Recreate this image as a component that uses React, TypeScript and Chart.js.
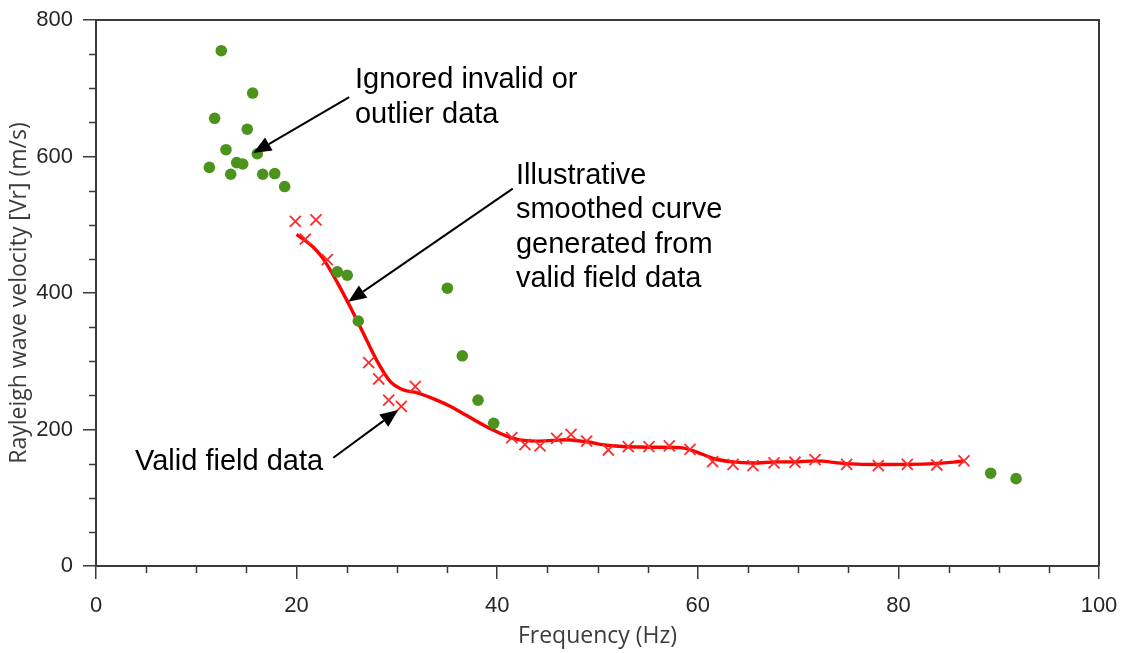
import React, { useEffect, useRef } from "react";
import { Chart, registerables } from "chart.js";

Chart.register(...registerables);

// Ignored invalid / outlier data (green dots)
const outlierFreq = [11.3, 11.83, 12.49, 12.96, 13.43, 14.03, 14.63, 15.08, 15.62, 16.08, 16.62, 17.82, 18.81, 24.06, 25.05, 26.15, 35.03, 36.52, 38.09, 39.65, 89.2, 91.73];
const outlierVel = [584, 656, 755, 610, 574, 591, 589, 640, 693, 604, 574, 575, 556, 431, 426, 359, 407, 308, 243, 209, 136, 128];

// Valid field data (red crosses)
const validFreq = [19.87, 20.87, 21.93, 23.06, 27.19, 28.19, 29.18, 30.44, 31.83, 41.45, 42.77, 44.27, 45.93, 47.36, 48.92, 51.08, 53.07, 55.13, 57.16, 59.22, 61.48, 63.51, 65.5, 67.6, 69.69, 71.69, 74.84, 78.0, 80.89, 83.82, 86.54];
const validVel = [505, 479, 507, 449, 298, 274, 243, 234, 263, 188, 178, 176, 187, 193, 183, 170, 175, 175, 176, 171, 153, 149, 147, 151, 152, 156, 149, 147, 149, 148, 154];

// Illustrative smoothed curve
const curveFreq = [20.0, 21.67, 22.66, 24.0, 25.3, 26.65, 28.0, 29.3, 30.64, 31.97, 33.97, 35.3, 37.0, 38.95, 41.6, 43.9, 45.6, 46.9, 48.9, 50.9, 55.2, 58.2, 59.9, 61.55, 63.5, 65.5, 67.9, 69.5, 71.7, 74.8, 78.0, 83.5, 86.5];
const curveVel = [486, 467, 450, 417, 381, 341, 301, 271, 258, 254, 243, 234, 220, 204, 187, 183, 184, 185, 182, 177, 174, 173.5, 167, 157.5, 152.5, 151, 152.5, 152.5, 154, 150, 148.7, 150, 153.5];

const xTickValues = [0, 20, 40, 60, 80, 100];
const yTickValues = [0, 200, 400, 600, 800];
const xMinorStep = 5;
const yMinorStep = 50;

const xTitle = "Frequency (Hz)";
const yTitle = "Rayleigh wave velocity [Vr] (m/s)";

const noteTexts = [
  { lines: ["Ignored invalid or", "outlier data"], x: 25.82, y: 700 },
  { lines: ["Illustrative", "smoothed curve", "generated from", "valid field data"], x: 41.87, y: 559.7 },
  { lines: ["Valid field data"], x: 3.89, y: 140.7 },
];
const noteArrows = [
  { fromX: 25.25, fromY: 687, toX: 15.68, toY: 605 },
  { fromX: 41.55, fromY: 553, toX: 25.15, toY: 387 },
  { fromX: 23.66, fromY: 158.7, toX: 30.14, toY: 228.6 },
];

const AXIS_COLOR = "#3a3a3a";

const decorPlugin = {
  id: "decor",
  afterDraw(chart: any) {
    const { ctx, chartArea, scales } = chart;
    const xs = scales.x;
    const ys = scales.y;
    ctx.save();
    // frame top and right
    ctx.strokeStyle = AXIS_COLOR;
    ctx.lineWidth = 2;
    ctx.beginPath();
    ctx.moveTo(chartArea.left, chartArea.top);
    ctx.lineTo(chartArea.right, chartArea.top);
    ctx.lineTo(chartArea.right, chartArea.bottom);
    ctx.stroke();
    // minor ticks
    ctx.lineWidth = 1.5;
    ctx.beginPath();
    for (let v = 0; v <= 100; v += xMinorStep) {
      if (xTickValues.includes(v)) continue;
      const px = Math.round(xs.getPixelForValue(v)) + 0.5;
      ctx.moveTo(px, chartArea.bottom);
      ctx.lineTo(px, chartArea.bottom + 7);
    }
    for (let v = 0; v <= 800; v += yMinorStep) {
      if (yTickValues.includes(v)) continue;
      const py = Math.round(ys.getPixelForValue(v)) + 0.5;
      ctx.moveTo(chartArea.left - 7, py);
      ctx.lineTo(chartArea.left, py);
    }
    ctx.stroke();

    // annotation texts
    ctx.fillStyle = "#000";
    ctx.font = '29px "Liberation Sans", Arial, sans-serif';
    ctx.textAlign = "left";
    ctx.textBaseline = "alphabetic";
    for (const n of noteTexts) {
      const x0 = xs.getPixelForValue(n.x);
      const y0 = ys.getPixelForValue(n.y);
      n.lines.forEach((line, i) => ctx.fillText(line, x0, y0 + i * 34.3));
    }
    // arrows
    ctx.strokeStyle = "#000";
    ctx.lineWidth = 2;
    for (const a of noteArrows) {
      const x1 = xs.getPixelForValue(a.fromX);
      const y1 = ys.getPixelForValue(a.fromY);
      const x2 = xs.getPixelForValue(a.toX);
      const y2 = ys.getPixelForValue(a.toY);
      const ang = Math.atan2(y2 - y1, x2 - x1);
      const headLen = 18;
      const headHalf = 7.5;
      const bx = x2 - headLen * Math.cos(ang);
      const by = y2 - headLen * Math.sin(ang);
      ctx.beginPath();
      ctx.moveTo(x1, y1);
      ctx.lineTo(bx, by);
      ctx.stroke();
      ctx.beginPath();
      ctx.moveTo(x2, y2);
      ctx.lineTo(bx + headHalf * Math.sin(ang), by - headHalf * Math.cos(ang));
      ctx.lineTo(bx - headHalf * Math.sin(ang), by + headHalf * Math.cos(ang));
      ctx.closePath();
      ctx.fill();
    }
    ctx.restore();
  },
};

export default function App() {
  const canvasRef = useRef<HTMLCanvasElement | null>(null);

  useEffect(() => {
    const canvas = canvasRef.current;
    if (!canvas) return;
    const tickFont = { family: '"Liberation Sans", Arial, sans-serif', size: 22 };
    const titleFont = { family: '"Open Sans", "Noto Sans", sans-serif', size: 23 };
    const chart = new Chart(canvas, {
      type: "scatter",
      data: {
        datasets: [
          {
            label: "Ignored invalid or outlier data",
            data: outlierFreq.map((f, i) => ({ x: f, y: outlierVel[i] })),
            backgroundColor: "#4b931d",
            borderColor: "#4b931d",
            pointRadius: 5.8,
            pointBorderWidth: 0,
            showLine: false,
          },
          {
            label: "Valid field data",
            data: validFreq.map((f, i) => ({ x: f, y: validVel[i] })),
            pointStyle: "cross",
            rotation: 45,
            borderColor: "#ff2a2a",
            backgroundColor: "#ff2a2a",
            pointRadius: 7.8,
            pointBorderWidth: 1.8,
            showLine: false,
          },
          {
            label: "Illustrative smoothed curve",
            data: curveFreq.map((f, i) => ({ x: f, y: curveVel[i] })),
            showLine: true,
            borderColor: "#ff0000",
            borderWidth: 3.4,
            pointRadius: 0,
            cubicInterpolationMode: "monotone",
          } as any,
        ],
      },
      options: {
        animation: false,
        responsive: false,
        layout: { padding: { top: 20, right: 28, left: 0, bottom: 0 } },
        plugins: { legend: { display: false }, tooltip: { enabled: false } },
        scales: {
          x: {
            type: "linear",
            min: 0,
            max: 100,
            afterBuildTicks: (s: any) => {
              s.ticks = xTickValues.map((v) => ({ value: v }));
            },
            afterFit: (s: any) => {
              s.height = 87;
              s.paddingLeft = 0;
              s.paddingRight = 0;
            },
            ticks: { color: "#262626", font: tickFont, padding: 14, maxRotation: 0 },
            grid: {
              display: true,
              drawOnChartArea: false,
              drawTicks: true,
              tickLength: 13,
              color: AXIS_COLOR,
              lineWidth: 1.5,
            },
            border: { display: true, color: AXIS_COLOR, width: 2 },
            title: {
              display: true,
              text: xTitle,
              color: "#3c3c3c",
              font: titleFont,
              padding: { top: 0, bottom: 3 },
            },
          },
          y: {
            type: "linear",
            min: 0,
            max: 800,
            afterBuildTicks: (s: any) => {
              s.ticks = yTickValues.map((v) => ({ value: v }));
            },
            afterFit: (s: any) => {
              s.width = 96;
              s.paddingTop = 0;
              s.paddingBottom = 0;
            },
            ticks: { color: "#262626", font: tickFont, padding: 10 },
            grid: {
              display: true,
              drawOnChartArea: false,
              drawTicks: true,
              tickLength: 13,
              color: AXIS_COLOR,
              lineWidth: 1.5,
            },
            border: { display: true, color: AXIS_COLOR, width: 2 },
            title: {
              display: true,
              text: yTitle,
              color: "#3c3c3c",
              font: titleFont,
              padding: { top: 6, bottom: 0 },
            },
          },
        },
      },
      plugins: [decorPlugin],
    });
    return () => chart.destroy();
  }, []);

  return (
    <div style={{ position: "absolute", left: 0, top: 0, width: 1127, height: 653, background: "#fff" }}>
      <canvas ref={canvasRef} width={1127} height={653} style={{ display: "block" }} />
    </div>
  );
}
